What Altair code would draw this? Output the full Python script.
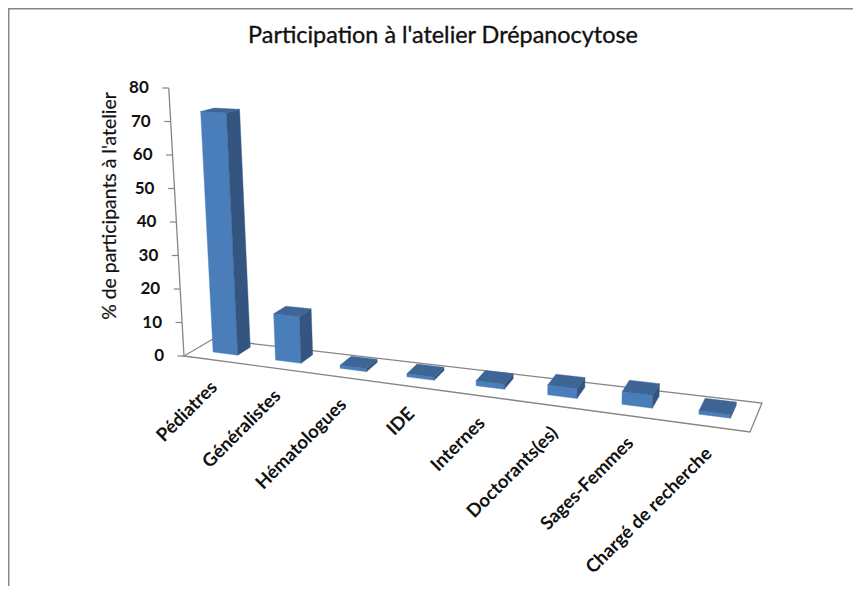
import altair as alt
import pandas as pd

categories = ["Pédiatres", "Généralistes", "Hématologues", "IDE", "Internes",
              "Doctorants(es)", "Sages-Femmes", "Chargé de recherche"]
values = [72.5, 13.7, 0.9, 0.9, 1.4, 2.7, 3.4, 0.9]
ticks = [0, 10, 20, 30, 40, 50, 60, 70, 80]

W, H = 845, 578
OX, OY = 8, 8
FL, FR, BR, BL = (184, 356), (750, 432), (762, 403), (213, 339)
PERSP = 1.15
N = len(categories)


def lerp(a, b, t):
    return (a[0] + (b[0] - a[0]) * t, a[1] + (b[1] - a[1]) * t)


def tf(u):
    q = u / N
    return q / (q + PERSP * (1 - q))


def proj(u, v, z=0.0):
    t = tf(u)
    x, y = lerp(lerp(FL, FR, t), lerp(BL, BR, t), v)
    s = (3.35 + 0.55 * t) * (1 - 0.04 * v) * z
    return (x + s * (x - 500) * 0.00018, y - s)


rows = []


def poly(layer, key, pts):
    for k, (x, y) in enumerate(pts):
        rows.append({"layer": layer, "key": key, "k": k, "x": x, "y": y})


for i, val in enumerate(values):
    u0, u1 = i + 0.3, i + 0.7
    v0, v1 = 0.37, 0.82
    poly("front", i, [proj(u0, v0), proj(u1, v0), proj(u1, v0, val), proj(u0, v0, val), proj(u0, v0)])
    poly("side", i, [proj(u1, v0), proj(u1, v1), proj(u1, v1, val), proj(u1, v0, val), proj(u1, v0)])
    poly("top", i, [proj(u0, v0, val), proj(u1, v0, val), proj(u1, v1, val), proj(u0, v1, val), proj(u0, v0, val)])
df = pd.DataFrame(rows)

x_s = alt.Scale(domain=[OX, OX + W], range=[0, W], nice=False, zero=False)
y_s = alt.Scale(domain=[OY, OY + H], range=[0, H], nice=False, zero=False)
X = alt.X("x:Q", scale=x_s, axis=None)
Y = alt.Y("y:Q", scale=y_s, axis=None)


def faces(name, color):
    return alt.Chart(df[df.layer == name]).mark_line(
        fill=color, stroke=color, strokeWidth=0.4, filled=False, interpolate="linear"
    ).encode(x=X, y=Y, order="k:Q", detail="key:N")


floor = pd.DataFrame([{"k": k, "x": p[0], "y": p[1]} for k, p in enumerate([BL, FL, FR, BR, BL])])
axis_pts = []
for j, p in enumerate([proj(0, 0, 0), proj(0, 0, 80)]):
    axis_pts.append({"k": j, "x": p[0], "y": p[1]})
axis_df = pd.DataFrame(axis_pts)
GRAY = "#868686"
floor_l = alt.Chart(floor).mark_line(color=GRAY, strokeWidth=1.3).encode(x=X, y=Y, order="k:Q")
axis_l = alt.Chart(axis_df).mark_line(color=GRAY, strokeWidth=1.3).encode(x=X, y=Y, order="k:Q")

tick_rows = []
for tv in ticks:
    p = proj(0, 0, tv)
    tick_rows.append({"label": str(tv), "x": p[0], "x2": p[0] - 6.5, "y": p[1], "xt": p[0] - 20, "yt": p[1]})
tick_df = pd.DataFrame(tick_rows)
tick_m = alt.Chart(tick_df).mark_rule(color=GRAY, strokeWidth=1.2).encode(x=X, x2="x2:Q", y=Y)
tick_t = alt.Chart(tick_df).mark_text(font="Lato", fontSize=17, fontWeight="bold", align="right",
                                      baseline="middle", color="#111111").encode(
    x=alt.X("xt:Q", scale=x_s, axis=None), y=alt.Y("yt:Q", scale=y_s, axis=None), text="label:N")

cat_rows = []
for i, c in enumerate(categories):
    p = proj(i + 0.5, 0)
    cat_rows.append({"label": c, "x": p[0] - 1, "y": p[1] + 24})
cat_t = alt.Chart(pd.DataFrame(cat_rows)).mark_text(
    font="Lato", fontSize=18.5, fontWeight="bold", align="right", baseline="middle", angle=315, color="#111111"
).encode(x=X, y=Y, text="label:N")

title_t = alt.Chart(pd.DataFrame([{"label": "Participation à l'atelier Drépanocytose", "x": 443, "y": 36}])).mark_text(
    font="Lato", fontSize=23.4, align="center", baseline="middle", color="#111111", stroke="#111111", strokeWidth=0.35
).encode(x=X, y=Y, text="label:N")
ytitle_t = alt.Chart(pd.DataFrame([{"label": "% de participants à l'atelier", "x": 110, "y": 206}])).mark_text(
    font="Lato", fontSize=19.4, align="center", baseline="middle", angle=270, color="#111111", stroke="#111111", strokeWidth=0.2
).encode(x=X, y=Y, text="label:N")

border = pd.DataFrame([{"k": 0, "x": 8.7, "y": 586.0}, {"k": 1, "x": 8.7, "y": 8.7}, {"k": 2, "x": 853, "y": 8.7}])
border_l = alt.Chart(border).mark_line(color=GRAY, strokeWidth=1.5).encode(x=X, y=Y, order="k:Q")

chart = alt.layer(
    border_l, floor_l, axis_l, tick_m, tick_t,
    faces("front", "#4a7ebb"), faces("side", "#34557f"), faces("top", "#3d6596"),
    cat_t, title_t, ytitle_t,
).properties(width=W, height=H, padding=0, background="white",
             autosize=alt.AutoSizeParams(type="none")).configure_view(stroke=None)

chart.save("out.html", embed_options={"renderer": "svg", "actions": False})
